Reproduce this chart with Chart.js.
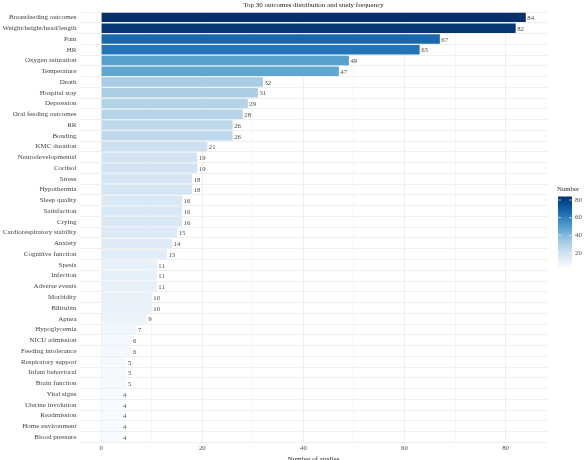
<!DOCTYPE html>
<html>
<head>
<meta charset="utf-8">
<script src="https://cdn.jsdelivr.net/npm/chart.js@4"></script>
<style>
	html, body { margin: 0; padding: 0; background: #fff; overflow: hidden; }
	#wrap { width: 584px; height: 463px; }
</style>
</head>
<body>
<div id="wrap"><canvas id="chart"></canvas></div>
<script>
const chartTitle = 'Top 30 outcomes distribution and study frequency';
const outcomes = [
	'Breastfeeding outcomes', 'Weight/height/head/length', 'Pain', 'HR', 'Oxygen saturation',
	'Temperature', 'Death', 'Hospital stay', 'Depression', 'Oral feeding outcomes',
	'RR', 'Bonding', 'KMC duration', 'Neurodevelopmental', 'Cortisol',
	'Stress', 'Hypothermia', 'Sleep quality', 'Satisfaction', 'Crying',
	'Cardiorespiratory stability', 'Anxiety', 'Cognitive function', 'Spesis', 'Infection',
	'Adverse events', 'Morbidity', 'Bilirubin', 'Apnea', 'Hypoglycemia',
	'NICU admission', 'Feeding intolerance', 'Respiratory support', 'Infant behavioral', 'Brain function',
	'Vital signs', 'Uterine involution', 'Readmission', 'Home environment', 'Blood pressure'
];
const studies = [
	84, 82, 67, 63, 49,
	47, 32, 31, 29, 28,
	26, 26, 21, 19, 19,
	18, 18, 16, 16, 16,
	15, 14, 13, 11, 11,
	11, 10, 10, 9, 7,
	6, 6, 5, 5, 5,
	4, 4, 4, 4, 4
];
const xTicks = [0, 20, 40, 60, 80];
const legendTicks = [20, 40, 60, 80];
const blues = ['#f7fbff', '#deebf7', '#c6dbef', '#9ecae1', '#6baed6', '#4292c6', '#2171b5', '#08519c', '#08306b'];

const serif = '"Liberation Serif", "DejaVu Serif", serif';
const lo = Math.min(...studies);
const hi = Math.max(...studies);

function hexToRgb(h) {
	return [1, 3, 5].map(i => parseInt(h.substr(i, 2), 16));
}

function fillFor(v) {
	const t = (v - lo) / (hi - lo) * (blues.length - 1);
	const i = Math.min(Math.floor(t), blues.length - 2);
	const f = t - i;
	const a = hexToRgb(blues[i]);
	const b = hexToRgb(blues[i + 1]);
	const c = a.map((x, k) => Math.round(x + (b[k] - x) * f));
	return 'rgb(' + c.join(',') + ')';
}

// title centred over the panel, not the whole canvas
const panelTitle = {
	id: 'panelTitle',
	afterDraw(chart) {
		const ctx = chart.ctx;
		const a = chart.chartArea;
		ctx.save();
		ctx.font = '7px ' + serif;
		ctx.fillStyle = '#222';
		ctx.textAlign = 'center';
		ctx.textBaseline = 'middle';
		ctx.fillText(chartTitle, (a.left + a.right) / 2, 5);
		ctx.restore();
	}
};

const valueLabels = {
	id: 'valueLabels',
	afterDatasetsDraw(chart) {
		const ctx = chart.ctx;
		const meta = chart.getDatasetMeta(0);
		ctx.save();
		ctx.font = '6.8px ' + serif;
		ctx.fillStyle = '#4d4d4d';
		ctx.textBaseline = 'middle';
		ctx.textAlign = 'left';
		meta.data.forEach((bar, i) => {
			ctx.fillText(String(studies[i]), bar.x + 1.5, bar.y + 1);
		});
		ctx.restore();
	}
};

const colorBar = {
	id: 'colorBar',
	afterDraw(chart) {
		const ctx = chart.ctx;
		const x0 = 558, w = 14;
		const yTop = 196.5, yBot = 267;
		const pos = v => yBot - (v - lo) / (hi - lo) * (yBot - yTop);
		ctx.save();
		const g = ctx.createLinearGradient(0, yBot, 0, yTop);
		blues.forEach((c, i) => g.addColorStop(i / (blues.length - 1), c));
		ctx.fillStyle = g;
		ctx.fillRect(x0, yTop, w, yBot - yTop);
		ctx.font = '6.8px ' + serif;
		ctx.fillStyle = '#333';
		ctx.textBaseline = 'middle';
		ctx.textAlign = 'left';
		ctx.fillText('Number', 557, 189);
		ctx.fillStyle = '#4d4d4d';
		legendTicks.forEach(v => {
			const y = pos(v);
			ctx.strokeStyle = 'rgba(255,255,255,0.8)';
			ctx.lineWidth = 0.8;
			ctx.beginPath();
			ctx.moveTo(x0, y); ctx.lineTo(x0 + 3, y);
			ctx.moveTo(x0 + w - 3, y); ctx.lineTo(x0 + w, y);
			ctx.stroke();
			ctx.fillText(String(v), x0 + w + 3, y);
		});
		ctx.restore();
	}
};

new Chart(document.getElementById('chart'), {
	type: 'bar',
	data: {
		labels: outcomes,
		datasets: [{
			data: studies,
			backgroundColor: studies.map(fillFor),
			borderWidth: 0,
			barPercentage: 0.88,
			categoryPercentage: 1
		}]
	},
	options: {
		indexAxis: 'y',
		responsive: true,
		maintainAspectRatio: false,
		animation: false,
		layout: { padding: { left: 0, right: 37, top: 12, bottom: 0 } },
		plugins: {
			legend: { display: false },
			tooltip: { enabled: false },
			title: { display: false }
		},
		scales: {
			x: {
				min: -4.2,
				max: 88.2,
				afterBuildTicks(scale) {
					scale.ticks = [0, 10, 20, 30, 40, 50, 60, 70, 80].map(v => ({ value: v }));
				},
				ticks: {
					autoSkip: false,
					maxRotation: 0,
					padding: 2,
					font: { family: serif, size: 6.8 },
					color: '#4d4d4d',
					callback: v => xTicks.includes(v) ? String(v) : ''
				},
				grid: {
					color: '#ebebeb',
					lineWidth: ctx => ctx.tick && xTicks.includes(ctx.tick.value) ? 0.8 : 0.5,
					drawTicks: false
				},
				border: { display: false },
				title: {
					display: true,
					text: 'Number of studies',
					font: { family: serif, size: 7 },
					color: '#222',
					padding: { top: 0, bottom: 0 }
				}
			},
			y: {
				afterFit(scale) { scale.width = 80; },
				ticks: {
					autoSkip: false,
					padding: 3.5,
					font: { family: serif, size: 7 },
					color: '#444'
				},
				grid: { color: '#ebebeb', lineWidth: 0.8, drawTicks: false },
				border: { display: false }
			}
		}
	},
	plugins: [panelTitle, valueLabels, colorBar]
});
</script>
</body>
</html>
